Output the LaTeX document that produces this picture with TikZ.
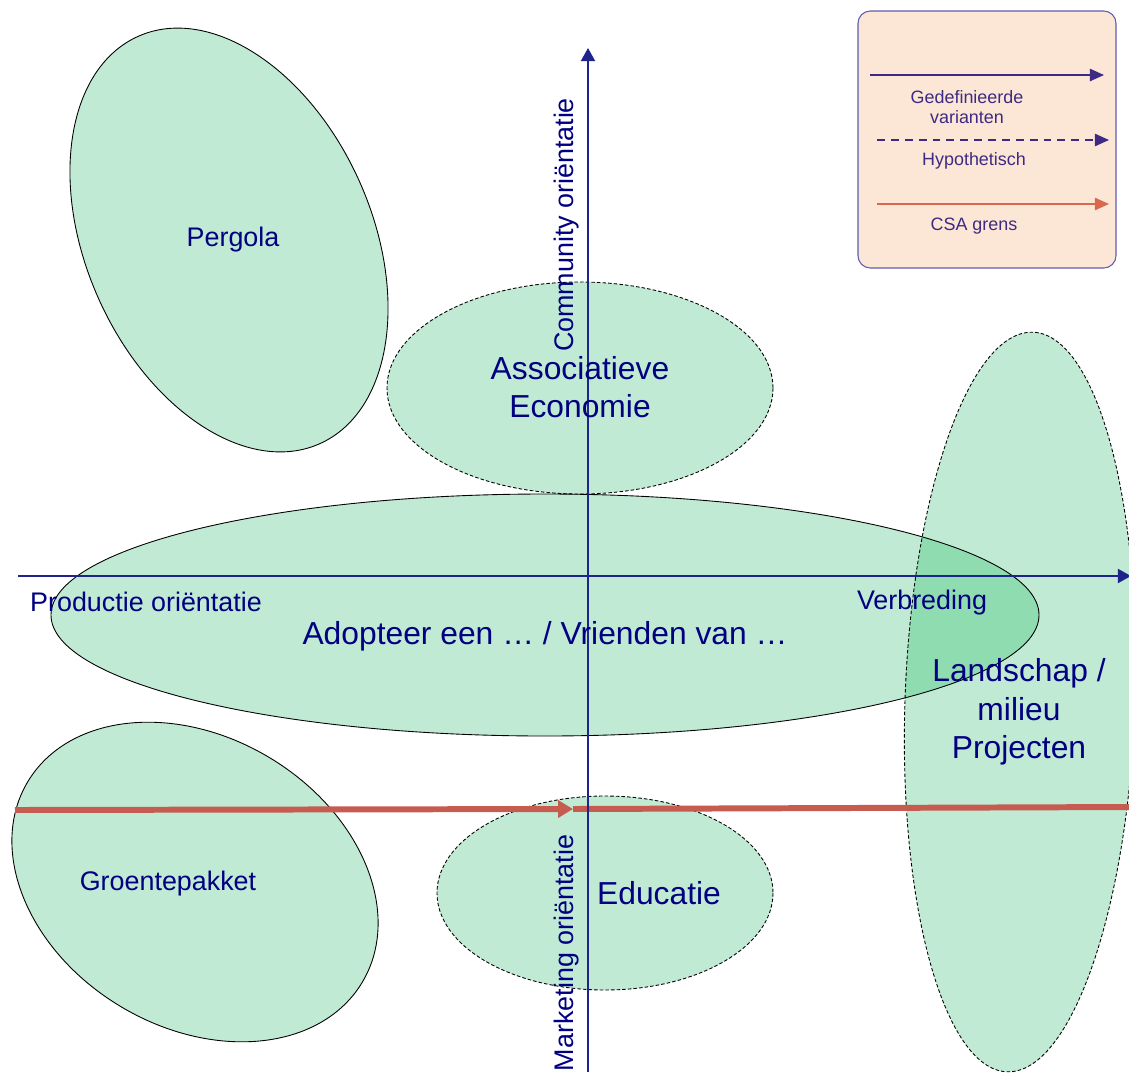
\documentclass[tikz,border=0pt]{standalone}
\usepackage{fontspec}
\setmainfont{Liberation Sans}
\usetikzlibrary{arrows.meta}
\definecolor{blobgreen}{RGB}{192,234,212}
\definecolor{blobdark}{RGB}{143,220,176}
\definecolor{axisblue}{RGB}{30,36,140}
\definecolor{textblue}{RGB}{0,0,128}
\definecolor{csared}{RGB}{198,92,80}
\definecolor{legred}{RGB}{216,104,78}
\definecolor{legpurple}{RGB}{62,42,130}
\definecolor{legfill}{RGB}{252,230,214}
\definecolor{legframe}{RGB}{92,92,176}
\begin{document}
\begin{tikzpicture}[x=0.02cm,y=-0.02cm,
   blobfill/.style={fill=blobgreen},
   blobline/.style={draw=black,line width=0.5pt},
   hypoline/.style={blobline,dash pattern=on 2pt off 1.2pt},
   axis/.style={axisblue,line width=1.2pt,-{Triangle[length=7.5pt,width=8pt]}},
   csa/.style={csared,line width=3.4pt},
   lab/.style={textblue,font=\fontsize{15.3}{18}\selectfont,align=center},
   big/.style={textblue,font=\fontsize{18.1}{21.8}\selectfont,align=center},
   leg/.style={legpurple,font=\fontsize{10.2}{11.4}\selectfont,align=center}]
   \useasboundingbox (0,0) rectangle (1129,1072);
   % Fills
   \fill[blobfill] (229,240) ellipse [x radius=143,y radius=223,rotate=24];
   \fill[blobfill] (580,388) ellipse [x radius=193,y radius=106];
   \fill[blobfill] (545,615) ellipse [x radius=494,y radius=121];
   \fill[blobfill] (1020,702) ellipse [x radius=115,y radius=370,rotate=-2];
   \fill[blobfill] (195,882) ellipse [x radius=195,y radius=145,rotate=-31];
   \fill[blobfill] (605,893) ellipse [x radius=168,y radius=97];
   % Overlap
   \begin{scope}
     \clip (545,615) ellipse [x radius=494,y radius=121];
     \fill[blobdark] (1020,702) ellipse [x radius=115,y radius=370,rotate=-2];
   \end{scope}
   % Outlines
   \draw[blobline] (229,240) ellipse [x radius=143,y radius=223,rotate=24];
   \draw[hypoline] (580,388) ellipse [x radius=193,y radius=106];
   \draw[blobline] (545,615) ellipse [x radius=494,y radius=121];
   \draw[hypoline] (1020,702) ellipse [x radius=115,y radius=370,rotate=-2];
   \draw[blobline] (195,882) ellipse [x radius=195,y radius=145,rotate=-31];
   \draw[hypoline] (605,893) ellipse [x radius=168,y radius=97];
   % CSA grens
   \coordinate (csaL) at (15,810);
   \coordinate (csaM) at (573,809);
   \coordinate (csaR) at (1129,807);
   \draw[csa,-{Triangle[length=8.5pt,width=9.6pt]}] (csaL) -- (csaM);
   \draw[csa] (csaM) -- (csaR);
   % Axes
   \coordinate (xL) at (18,576);
   \coordinate (xR) at (1131,576);
   \coordinate (yB) at (588,1072);
   \coordinate (yT) at (588,48);
   \draw[axis] (xL) -- (xR);
   \draw[axis] (yB) -- (yT);
   % Labels
   \node[lab] (pergola) at (233,240) {Pergola};
   \node[big] (assoc) at (580,387) {Associatieve\\Economie};
   \node[big] (adopt) at (545,636) {Adopteer een … / Vrienden van …};
   \node[big] (land) at (1019,712) {Landschap /\\milieu\\Projecten};
   \node[lab] (groente) at (168,884) {Groentepakket};
   \node[big] (educ) at (659,893) {Educatie};
   \node[lab] (prod) at (146,602) {Productie oriëntatie};
   \node[lab] (verb) at (922,603) {Verbreding};
   \node[lab,rotate=90] (comm) at (567,225) {Community oriëntatie};
   \node[lab,rotate=90] (mark) at (567,953) {Marketing oriëntatie};
   % Legend
   \draw[legframe,fill=legfill,rounded corners=7pt,line width=0.6pt] (858,11) rectangle (1116,268);
   \coordinate (defA) at (870,75);
   \coordinate (defB) at (1104,75);
   \coordinate (hypA) at (877,140);
   \coordinate (hypB) at (1109,140);
   \coordinate (grA) at (877,204);
   \coordinate (grB) at (1109,204);
   \draw[legpurple,line width=0.8pt,-{Triangle[length=8pt,width=7pt]}] (defA) -- (defB);
   \draw[legpurple,line width=0.8pt,dash pattern=on 4.5pt off 3.4pt,-{Triangle[length=8pt,width=7pt]}] (hypA) -- (hypB);
   \draw[legred,line width=0.8pt,-{Triangle[length=8pt,width=7pt]}] (grA) -- (grB);
   \node[leg] (deflab) at (967,107) {Gedefinieerde\\varianten};
   \node[leg] (hyplab) at (974,161) {Hypothetisch};
   \node[leg] (grlab) at (974,226) {CSA grens};
\end{tikzpicture}
\end{document}
